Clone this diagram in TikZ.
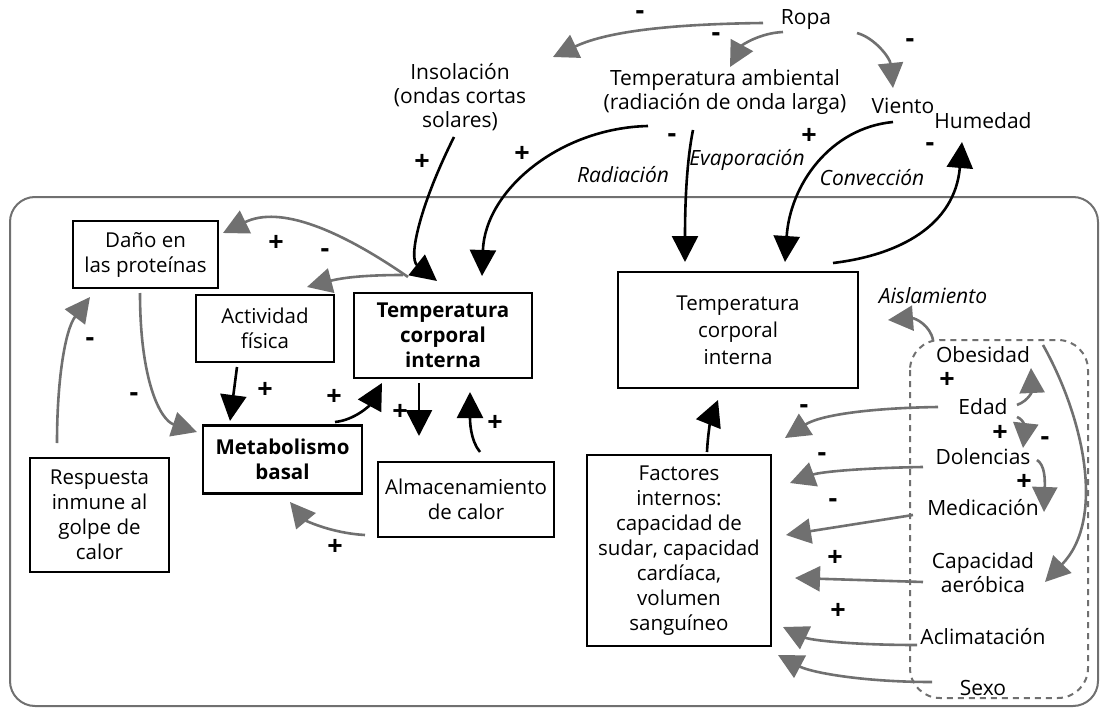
\documentclass[tikz,border=0pt]{standalone}
\usepackage{fontspec}
\setmainfont{Open Sans}
\usetikzlibrary{arrows.meta}
\definecolor{gr}{RGB}{112,112,112}
\newcommand\boxfs{\fontsize{20.5}{25}\selectfont}
\newcommand\txtfs{\fontsize{21}{24}\selectfont}
\newcommand\sgnfs{\fontsize{27}{28}\selectfont\bfseries}
\begin{document}
\begin{tikzpicture}[x=1pt,y=-1pt]
\useasboundingbox (0,0) rectangle (1104,709);
\tikzset{
 box/.style={draw, line width=2.6pt, align=center, inner sep=0pt, font=\boxfs},
 txt/.style={align=center, inner sep=0pt, font=\txtfs},
 itx/.style={inner sep=0pt, font=\txtfs\itshape},
 sgn/.style={inner sep=0pt, font=\sgnfs},
 garr/.style={draw=gr, line width=2.6pt, -{Triangle[length=25pt,width=25pt]}},
 barr/.style={draw=black, line width=2.6pt, -{Triangle[length=26pt,width=26pt]}},
 frame/.style={draw=gr, line width=2pt, rounded corners=25pt},
 dframe/.style={draw=gr, line width=2pt, dash pattern=on 6pt off 5pt, rounded corners=30pt}
}
% containers
\draw[frame] (10,197) rectangle (1098,706);
\draw[dframe] (910,340) rectangle (1088,698);

% free texts
\node[txt] (ropa) at (806,20) {Ropa};
\node[txt] (inso) at (460,97) {Insolación\\(ondas cortas\\solares)};
\node[txt] (tamb) at (725,92) {Temperatura ambiental\\(radiación de onda larga)};
\node[txt] (viento) at (903,106) {Viento};
\node[txt] (hum) at (983,121) {Humedad};
\node[itx] (rad) at (623,175) {Radiación};
\node[itx] (evap) at (747,160) {Evaporación};
\node[itx] (conv) at (872,178) {Convección};
\node[itx] (aisl) at (933,296) {Aislamiento};

% boxes
\node[box, minimum width=145pt, minimum height=67pt] (dano) at (145.5,254.5) {Daño en\\las proteínas};
\node[box, minimum width=138pt, minimum height=67pt] (act) at (265,328.5) {Actividad\\física};
\node[box, minimum width=178pt, minimum height=85pt, font=\boxfs\bfseries] (tcl) at (443,335.5) {Temperatura\\corporal\\interna};
\node[box, minimum width=159pt, minimum height=68pt, font=\boxfs\bfseries] (met) at (282.5,459.5) {Metabolismo\\basal};
\node[box, minimum width=176pt, minimum height=75pt] (alm) at (466,499.5) {Almacenamiento\\de calor};
\node[box, minimum width=139pt, minimum height=114pt] (resp) at (99.5,515) {Respuesta\\inmune al\\golpe de\\calor};
\node[box, minimum width=240pt, minimum height=116pt] (tcr) at (738,330) {Temperatura\\[2pt]corporal\\[2pt]interna};
\node[box, minimum width=184pt, minimum height=191pt] (fac) at (679,550.5) {Factores\\internos:\\capacidad de\\sudar, capacidad\\cardíaca,\\volumen\\sanguíneo};

% factor list
\node[txt] (obes) at (983,355) {Obesidad};
\node[txt] (edad) at (983,407) {Edad};
\node[txt] (dol) at (983,457) {Dolencias};
\node[txt] (med) at (983,508) {Medicación};
\node[txt] (cap) at (983,573) {Capacidad\\aeróbica};
\node[txt] (acl) at (983,637) {Aclimatación};
\node[txt] (sexo) at (983,688) {Sexo};

% signs
\node[sgn] (s1) at (640,15) {-};
\node[sgn] (s2) at (716,37) {-};
\node[sgn] (s3) at (910,43) {-};
\node[sgn] (s4) at (422,162) {+};
\node[sgn] (s5) at (522,154) {+};
\node[sgn] (s6) at (672,138) {-};
\node[sgn] (s7) at (809,136) {+};
\node[sgn] (s8) at (930,147) {-};
\node[sgn] (s9) at (276,243) {+};
\node[sgn] (s10) at (325,253) {-};
\node[sgn] (s11) at (90,342) {-};
\node[sgn] (s12) at (134,397) {-};
\node[sgn] (s13) at (265,390) {+};
\node[sgn] (s14) at (334,397) {+};
\node[sgn] (s15) at (400,412) {+};
\node[sgn] (s16) at (495,423) {+};
\node[sgn] (s17) at (335,547) {+};
\node[sgn] (s18) at (947,380) {+};
\node[sgn] (s19) at (1000,433) {+};
\node[sgn] (s20) at (1045,441) {-};
\node[sgn] (s21) at (1024,482) {+};
\node[sgn] (s22) at (804,409) {-};
\node[sgn] (s23) at (822,457) {-};
\node[sgn] (s24) at (833,503) {-};
\node[sgn] (s25) at (835,558) {+};
\node[sgn] (s26) at (838,611) {+};

% connector end points
\coordinate (ropaA) at (763,23);   \coordinate (insoT) at (553,57);
\coordinate (ropaB) at (783,32);   \coordinate (tambT) at (730,67);
\coordinate (ropaC) at (857,33);   \coordinate (vienT) at (893,88);
\coordinate (insoS) at (454,137);  \coordinate (tclA) at (437,281);
\coordinate (tambS) at (648,126);  \coordinate (tclB) at (482,276);
\coordinate (tambE) at (693,130);  \coordinate (tcrA) at (685,262);
\coordinate (vienS) at (893,122);  \coordinate (tcrB) at (785,262);
\coordinate (tcrS) at (833,263);   \coordinate (humT) at (962,142);
\coordinate (obesA) at (933,340);  \coordinate (aislT) at (888,320);
\coordinate (obesB) at (1043,345); \coordinate (capT) at (1045,582);
\coordinate (edadA) at (1017,405); \coordinate (obesT) at (1031,368);
\coordinate (edadB) at (1017,417); \coordinate (dolT) at (1023,448);
\coordinate (dolA) at (1037,460);  \coordinate (medT) at (1044,512);
\coordinate (edadC) at (938,407);  \coordinate (facA) at (785,438);
\coordinate (dolB) at (923,467);   \coordinate (facB) at (790,483);
\coordinate (medB) at (913,515);   \coordinate (facC) at (786,535);
\coordinate (capB) at (923,582);   \coordinate (facD) at (795,578);
\coordinate (aclB) at (917,645);   \coordinate (facE) at (783,627);
\coordinate (sexB) at (932,682);   \coordinate (facF) at (778,655);
\coordinate (facS) at (707,452);   \coordinate (tcrC) at (718,400);
\coordinate (tclS1) at (408,277);  \coordinate (danoT) at (223,233);
\coordinate (tclS2) at (403,275);  \coordinate (actT) at (307,287);
\coordinate (danoS) at (140,293);  \coordinate (metA) at (197,432);
\coordinate (respS) at (57,443);   \coordinate (danoB) at (90,297);
\coordinate (actS) at (237,367);   \coordinate (metB) at (230,421);
\coordinate (metS) at (335,422);   \coordinate (tclC) at (382,383);
\coordinate (tclS3) at (419,383);  \coordinate (almT) at (419,436);
\coordinate (almS) at (480,452);   \coordinate (tclD) at (470,392);
\coordinate (almS2) at (365,535);  \coordinate (metC) at (290,502);

% gray connectors
\draw[garr] (ropaA) .. controls (680,24) and (610,30) .. (insoT);
\draw[garr] (ropaB) .. controls (760,33) and (742,45) .. (tambT);
\draw[garr] (ropaC) .. controls (875,38) and (890,58) .. (vienT);
\draw[garr] (obesA) .. controls (930,325) and (915,318) .. (aislT);
\draw[garr] (obesB) .. controls (1085,420) and (1105,520) .. (capT);
\draw[garr] (edadA) .. controls (1030,400) and (1032,390) .. (obesT);
\draw[garr] (edadB) .. controls (1025,420) and (1025,430) .. (dolT);
\draw[garr] (dolA) .. controls (1045,465) and (1045,480) .. (medT);
\draw[garr] (edadC) .. controls (870,408) and (820,415) .. (facA);
\draw[garr] (dolB) .. controls (860,468) and (820,472) .. (facB);
\draw[garr] (medB) -- (facC);
\draw[garr] (capB) -- (facD);
\draw[garr] (aclB) .. controls (850,645) and (810,640) .. (facE);
\draw[garr] (sexB) .. controls (860,682) and (810,672) .. (facF);
\draw[garr] (tclS1) .. controls (340,230) and (280,205) .. (danoT);
\draw[garr] (tclS2) .. controls (370,275) and (345,277) .. (actT);
\draw[garr] (danoS) .. controls (140,380) and (160,420) .. (metA);
\draw[garr] (respS) .. controls (57,380) and (65,330) .. (danoB);
\draw[garr] (almS2) .. controls (330,533) and (305,520) .. (metC);

% black connectors
\draw[barr] (insoS) .. controls (420,205) and (408,258) .. (tclA);
\draw[barr] (tambS) .. controls (560,128) and (485,190) .. (tclB);
\draw[barr] (tambE) .. controls (686,165) and (685,210) .. (tcrA);
\draw[barr] (vienS) .. controls (830,128) and (790,185) .. (tcrB);
\draw[barr] (tcrS) .. controls (900,255) and (955,225) .. (humT);
\draw[barr] (facS) .. controls (708,430) and (712,415) .. (tcrC);
\draw[barr] (actS) -- (metB);
\draw[barr] (metS) .. controls (355,420) and (370,405) .. (tclC);
\draw[barr] (tclS3) -- (almT);
\draw[barr] (almS) .. controls (470,440) and (470,420) .. (tclD);
\end{tikzpicture}
\end{document}
